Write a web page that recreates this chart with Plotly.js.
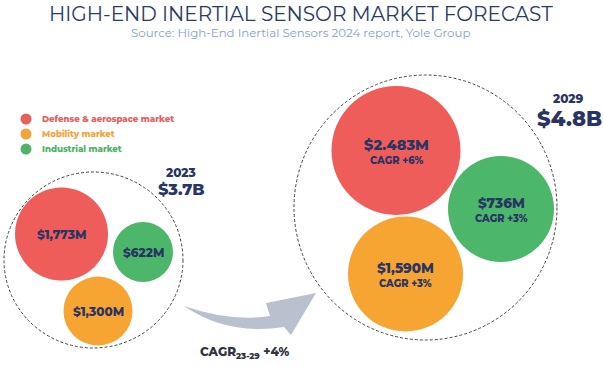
<!DOCTYPE html>
<html><head><meta charset="utf-8">
<script src="https://cdn.plot.ly/plotly-3.0.1.min.js"></script>
<style>html,body{margin:0;padding:0;background:#fff}#chart{width:603px;height:366px}</style>
</head><body><div id="chart"></div>
<script>
// ---- data ----
var categories = ["Defense & aerospace market", "Mobility market", "Industrial market"];
var years = ["2023", "2029"];
var totals = ["$3.7B", "$4.8B"];
var values2023 = [1773, 1300, 622];
var values2029 = [2483, 1590, 736];
var labels2023 = ["$1,773M", "$1,300M", "$622M"];
var labels2029 = ["$2.483M", "$1,590M", "$736M"];
var cagr2029 = ["CAGR +6%", "CAGR +3%", "CAGR +3%"];
var cagrTotal = "CAGR<sub>23-29</sub> +4%";

// ---- layout / style config (pixel space) ----
var colors = ["#ee5d5a", "#f6a532", "#4cb66b"];
var legendColors = ["#e8605c", "#f3a43a", "#4fb36a"];
var navy = "#2a3464";
var pos2023 = {x: [61.5, 98, 143], y: [234, 311, 252], r: [46.5, 34.5, 30]};
var pos2029 = {x: [396, 405.5, 501], y: [150.5, 274, 209], r: [64.5, 57.5, 53]};
var ring2023 = {x: 93.5, y: 260, rx: 89.5, ry: 88};
var ring2029 = {x: 425.5, y: 207.5, rx: 131.5, ry: 132.5};
var FONT = "Montserrat, 'Open Sans', sans-serif";

var traces = [];
function bubbles(pos, vals, name) {
  return {
    type: "scatter", mode: "markers", name: name,
    x: pos.x, y: pos.y,
    customdata: vals,
    marker: {size: pos.r.map(function (r) { return 2 * r; }), sizemode: "diameter",
             color: colors, opacity: 1, line: {width: 0}},
    hoverinfo: "skip", showlegend: false
  };
}
traces.push(bubbles(pos2023, values2023, years[0]));
traces.push(bubbles(pos2029, values2029, years[1]));
// legend dots
traces.push({type: "scatter", mode: "markers", x: [26, 26, 26], y: [119, 134, 149],
  marker: {size: 11, color: legendColors}, hoverinfo: "skip", showlegend: false});

var ann = [];
function a(x, y, text, size, color, weight, extra) {
  var o = {x: x, y: y, xref: "x", yref: "y", text: text, showarrow: false,
    font: {family: FONT, size: size, color: color, weight: weight || 700},
    xanchor: "center", yanchor: "middle"};
  for (var k in extra) o[k] = extra[k];
  ann.push(o);
}
// titles
a(300.5, 14, "HIGH-END INERTIAL SENSOR MARKET FORECAST", 20, "#2b3a67", 400);
a(300.5, 33, "Source: High-End Inertial Sensors 2024 report, Yole Group", 11.8, "#7fa3c9", 400);
// legend text
for (var i = 0; i < categories.length; i++) {
  a(40, 119 + 15 * i, categories[i], 8.6, legendColors[i], 800, {xanchor: "left"});
}
// year totals
a(180, 172, years[0], 12, navy, 800);
a(181, 189, totals[0], 16, navy, 800);
a(568, 98, years[1], 12, navy, 800);
a(569, 118, totals[1], 21, navy, 800);
// bubble labels 2023
for (var j = 0; j < 3; j++) {
  a(pos2023.x[j], pos2023.y[j], labels2023[j], 12, navy, 800);
}
// bubble labels 2029
var fs = [14.5, 13.5, 13.5];
for (var k2 = 0; k2 < 3; k2++) {
  a(pos2029.x[k2], pos2029.y[k2] - 6, labels2029[k2], fs[k2], navy, 800);
  a(pos2029.x[k2], pos2029.y[k2] + 9.5, cagr2029[k2], 9.8, navy, 800);
}
// CAGR total
a(245, 352, cagrTotal, 12, "#2e3440", 800);

var shapes = [
  {type: "circle", xref: "x", yref: "y", x0: ring2023.x - ring2023.rx, x1: ring2023.x + ring2023.rx,
   y0: ring2023.y - ring2023.ry, y1: ring2023.y + ring2023.ry,
   line: {color: "#444", width: 1, dash: "3px,2px"}, layer: "below"},
  {type: "circle", xref: "x", yref: "y", x0: ring2029.x - ring2029.rx, x1: ring2029.x + ring2029.rx,
   y0: ring2029.y - ring2029.ry, y1: ring2029.y + ring2029.ry,
   line: {color: "#444", width: 1, dash: "3px,2px"}, layer: "below"},
  {type: "path", xref: "x", yref: "y",
   path: "M 184 306 Q 230 322 270 316 L 266 303 L 316 293 L 291 335 L 284 327 Q 228 336 184 306 Z",
   fillcolor: "#b9c1cf", line: {width: 0}, layer: "below"}
];

var layout = {
  width: 603, height: 366, margin: {l: 0, r: 0, t: 0, b: 0},
  paper_bgcolor: "#fff", plot_bgcolor: "#fff",
  xaxis: {range: [0, 603], visible: false, fixedrange: true},
  yaxis: {range: [366, 0], visible: false, fixedrange: true},
  annotations: ann, shapes: shapes, showlegend: false
};
Plotly.newPlot("chart", traces, layout, {displayModeBar: false, staticPlot: true});
</script></body></html>
